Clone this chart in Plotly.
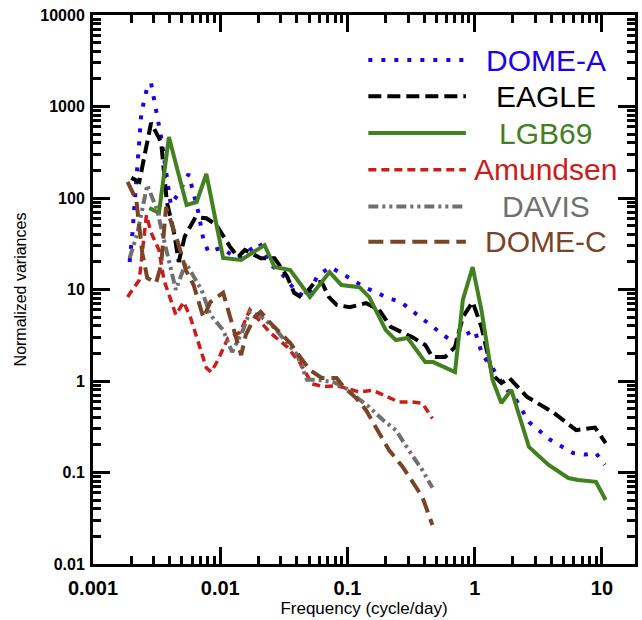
import plotly.graph_objects as go

# ---------------- data ----------------
dome_a_f = [0.00194, 0.00204, 0.00223, 0.0024, 0.00267, 0.00286, 0.00313, 0.00343, 0.00409, 0.00472,
            0.00565, 0.00674, 0.00738, 0.00807, 0.0100, 0.0138, 0.0204, 0.0248, 0.0297, 0.0403,
            0.0481, 0.0575, 0.0724, 0.0897, 0.136, 0.208, 0.262, 0.375, 0.565, 0.674,
            0.836, 1.0, 1.15, 1.38, 1.71, 2.12, 2.67, 3.95, 5.96, 7.38, 8.98, 10.5]
dome_a_v = [20, 41, 218, 849, 1633, 1806, 916, 464, 84, 113,
            183, 69, 35, 25.7, 28.4, 22, 32, 18.5, 15.5, 9.2,
            8.3, 13.7, 17.6, 15.1, 10.6, 8.1, 7.3, 4.9, 3.2, 2.67,
            3.2, 3.6, 1.92, 1.39, 0.86, 0.62, 0.356, 0.226, 0.163, 0.157, 0.163, 0.121]

eagle_f = [0.0020, 0.00231, 0.00286, 0.00343, 0.00381, 0.00433, 0.00472, 0.00526, 0.0064, 0.00778,
           0.0093, 0.0120, 0.0138, 0.0156, 0.0208, 0.0267, 0.0337, 0.0381, 0.044, 0.0555,
           0.0628, 0.0713, 0.0822, 0.104, 0.140, 0.177, 0.219, 0.325, 0.409, 0.465,
           0.585, 0.70, 0.807, 0.964, 1.13, 1.38, 1.62, 1.87, 2.58, 4.17, 6.28, 8.83, 10.7]
eagle_v = [166, 150, 661, 409, 90, 42, 20, 38, 62, 60,
           51, 29, 22.6, 27, 22, 22, 13.7, 9.2, 8.1, 12.1,
           12.1, 8.3, 6.8, 6.4, 7.1, 6.0, 3.9, 3.0, 2.47, 1.83,
           1.83, 2.35, 5.0, 7.3, 3.9, 1.16, 0.95, 1.08, 0.67, 0.45, 0.29, 0.31, 0.21]

lgb69_f = [0.00277, 0.00330, 0.00395, 0.00544, 0.00652, 0.00778, 0.01054, 0.01456, 0.0223, 0.0267,
           0.0355, 0.0507, 0.0724, 0.0897, 0.124, 0.148, 0.200, 0.240, 0.297, 0.409,
           0.472, 0.585, 0.700, 0.807, 0.964, 1.13, 1.38, 1.62, 1.94, 2.67,
           3.81, 5.45, 6.52, 8.98, 10.7]
lgb69_v = [77.8, 68.6, 464, 83.8, 90.4, 183, 22.1, 21.0, 30.6, 17.6,
           16.3, 8.3, 15.5, 11.2, 10.6, 8.3, 3.6, 2.8, 2.95, 1.61,
           1.61, 1.39, 1.25, 7.7, 17.6, 5.97, 1.03, 0.575, 0.80, 0.19,
           0.121, 0.087, 0.083, 0.079, 0.050]

amundsen_f = [0.00187, 0.00231, 0.00263, 0.00286, 0.0033, 0.00361, 0.00448, 0.00516, 0.00585, 0.0070,
              0.00778, 0.0085, 0.0096, 0.0115, 0.0143, 0.0171, 0.0204, 0.0248, 0.0337, 0.0425,
              0.0526, 0.0652, 0.0822, 0.124, 0.159, 0.208, 0.253, 0.325, 0.388, 0.465]
amundsen_v = [8.3, 12.7, 65, 42, 27, 12.7, 5.3, 7.3, 4.9, 2.18,
              1.39, 1.25, 1.7, 2.95, 3.4, 6.0, 4.6, 3.35, 2.35, 1.57,
              0.93, 0.87, 0.89, 0.76, 0.79, 0.67, 0.59, 0.59, 0.57, 0.39]

davis_f = [0.00194, 0.00223, 0.00267, 0.00319, 0.00361, 0.00395, 0.00448, 0.00536, 0.0061, 0.00713,
           0.00836, 0.01054, 0.0124, 0.0151, 0.0171, 0.0208, 0.0267, 0.0337, 0.0403, 0.0481,
           0.0575, 0.0778, 0.0948, 0.117, 0.148, 0.19, 0.24, 0.303, 0.388, 0.465]
davis_v = [22, 41, 139, 74, 35, 20, 9.9, 19.5, 14.4, 9.9,
           5.3, 3.6, 2.07, 3.6, 5.7, 5.1, 3.8, 2.6, 1.92, 1.03,
           1.03, 0.97, 0.86, 0.67, 0.52, 0.375, 0.29, 0.176, 0.106, 0.068]

dome_c_f = [0.00187, 0.00219, 0.00244, 0.00267, 0.00313, 0.00343, 0.00375, 0.00409, 0.00472, 0.00536,
            0.00618, 0.00738, 0.00836, 0.01054, 0.0115, 0.0131, 0.0146, 0.0159, 0.0187, 0.0208,
            0.0244, 0.0297, 0.0355, 0.0425, 0.0507, 0.0628, 0.0822, 0.0948, 0.117, 0.140,
            0.168, 0.212, 0.272, 0.343, 0.388, 0.465]
dome_c_v = [150, 95, 25, 13.4, 11.8, 18.5, 80, 57, 30.6, 16.3,
            11.2, 4.9, 7.3, 9.2, 6.0, 3.35, 1.92, 3.2, 5.0, 5.7,
            4.4, 3.35, 2.6, 1.83, 1.32, 1.08, 1.08, 0.84, 0.65, 0.48,
            0.31, 0.176, 0.115, 0.0695, 0.054, 0.0267]

x_tick_vals = [0.001, 0.01, 0.1, 1, 10]
x_tick_text = ["0.001", "0.01", "0.1", "1", "10"]
y_tick_vals = [0.01, 0.1, 1, 10, 100, 1000, 10000]
y_tick_text = ["0.01", "0.1", "1", "10", "100", "1000", "10000"]

series_names = ["DOME-A", "EAGLE", "LGB69", "Amundsen", "DAVIS", "DOME-C"]
series_f = [dome_a_f, eagle_f, lgb69_f, amundsen_f, davis_f, dome_c_f]
series_v = [dome_a_v, eagle_v, lgb69_v, amundsen_v, davis_v, dome_c_v]

# ---------------- styles ----------------
colors = ["#2000f0", "#000000", "#43801f", "#cf1b1b", "#707070", "#7a4427"]
widths = [4, 4, 4, 3.5, 4, 4]
dashes = ["4px,9px", "13px,6px", "solid", "8px,5px", "10px,4px,3px,4px,3px,4px", "15px,7px"]

FONT = "Liberation Sans, Arial, Helvetica, sans-serif"

fig = go.Figure()
for name, f, v, c, w, d in zip(series_names, series_f, series_v, colors, widths, dashes):
    fig.add_trace(go.Scatter(x=f, y=v, mode="lines", name=name,
                             line=dict(color=c, width=w, dash=d), showlegend=False))

# Custom legend (line samples + centred coloured labels)
leg_y = [0.918, 0.852, 0.785, 0.718, 0.651, 0.587]
for name, c, w, d, yy in zip(series_names, colors, widths, dashes, leg_y):
    fig.add_shape(type="line", xref="paper", yref="paper", x0=0.508, x1=0.688, y0=yy, y1=yy,
                  line=dict(color=c, width=w, dash=d))
    fig.add_annotation(xref="paper", yref="paper", x=0.835, y=yy, text=name, showarrow=False,
                       xanchor="center", yanchor="middle",
                       font=dict(family=FONT, size=30, color=c))

minor_x = [m * 10 ** e for e in range(-3, 2) for m in range(2, 10)]
minor_y = [m * 10 ** e for e in range(-2, 4) for m in range(2, 10)]

axis_common = dict(type="log", showgrid=False, zeroline=False, showline=True,
                   linecolor="black", linewidth=3, mirror="allticks",
                   ticks="inside", ticklen=17, tickwidth=3, tickcolor="black",
                   tickmode="array")

fig.update_xaxes(**axis_common, range=[-3, 1.26], tickvals=x_tick_vals, ticktext=x_tick_text,
                 tickfont=dict(family=FONT, size=20, color="black", weight="bold"),
                 ticklabelstandoff=4,
                 minor=dict(tickmode="array", tickvals=minor_x, ticks="inside", ticklen=8,
                            tickwidth=2.5, tickcolor="black", showgrid=False),
                 title=dict(text="Frequency (cycle/day)", font=dict(family=FONT, size=17, color="black"),
                            standoff=4))
fig.update_yaxes(**axis_common, range=[-2, 4], tickvals=y_tick_vals, ticktext=y_tick_text,
                 tickfont=dict(family=FONT, size=16, color="black", weight="bold"),
                 ticklabelstandoff=2,
                 minor=dict(tickmode="array", tickvals=minor_y, ticks="inside", ticklen=8,
                            tickwidth=2.5, tickcolor="black", showgrid=False),
                 title=dict(text="Normalized variances", font=dict(family=FONT, size=16, color="black"),
                            standoff=10))

fig.update_layout(width=642, height=620, margin=dict(l=93, r=4, t=15, b=56),
                  paper_bgcolor="white", plot_bgcolor="white",
                  font=dict(family=FONT, color="black"))

fig.write_html("out.html")
